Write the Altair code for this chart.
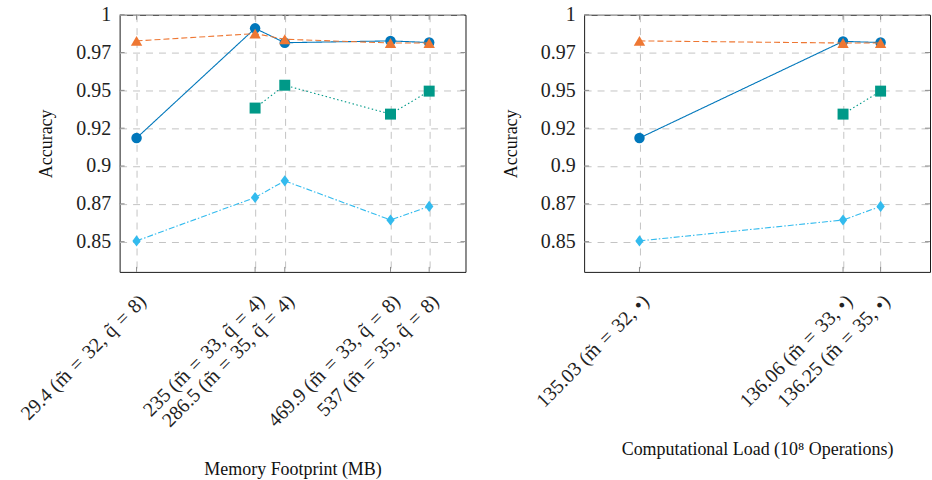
import altair as alt
import pandas as pd

# ---------------- data ----------------
series_names = ["Series 1", "Series 2", "Series 3", "Series 4"]
series_colors = ["#0077BB", "#EE7733", "#009988", "#33BBEE"]

S = "\u2004"  # math-like spacing around relations
mem_x = [29.4, 235, 286.5, 469.9, 537]
mem_labels = [
    f"29.4 (m\u0303{S}={S}32, q\u0303{S}={S}8)",
    f"235 (m\u0303{S}={S}33, q\u0303{S}={S}4)",
    f"286.5 (m\u0303{S}={S}35, q\u0303{S}={S}4)",
    f"469.9 (m\u0303{S}={S}33, q\u0303{S}={S}8)",
    f"537 (m\u0303{S}={S}35, q\u0303{S}={S}8)",
]
mem_s1 = [0.9185, 0.9910, 0.9815, 0.9827, 0.9816]
mem_s2 = [0.9827, 0.9875, 0.9838, 0.9813, 0.9813]
mem_s3 = [None, 0.9383, 0.9534, 0.9343, 0.9495]
mem_s4 = [0.8505, 0.8792, 0.8902, 0.8643, 0.8733]

ops_x = [135.03, 136.06, 136.25]
ops_labels = [
    f"135.03 (m\u0303{S}={S}32, \u2022)",
    f"136.06 (m\u0303{S}={S}33, \u2022)",
    f"136.25 (m\u0303{S}={S}35, \u2022)",
]
ops_s1 = [0.9185, 0.9824, 0.9816]
ops_s2 = [0.9827, 0.9813, 0.9813]
ops_s3 = [None, 0.9343, 0.9495]
ops_s4 = [0.8505, 0.8643, 0.8733]

y_ticks = [0.85, 0.875, 0.9, 0.925, 0.95, 0.975, 1.0]
y_tick_labels = ["0.85", "0.87", "0.9", "0.92", "0.95", "0.97", "1"]

# ---------------- styling ----------------
W, H = 347, 258
TICK_FONT = "Liberation Serif"
TICK_SIZE = 20
TITLE_FONT = "Liberation Serif"
TITLE_SIZE = 18
GRID_COLOR = "#c4c4c4"
TICK_COLOR = "#8c8c8c"

dashes = [[1, 0], [6, 3], [1.5, 2.5], [6, 2, 1.5, 2]]
shapes = ["circle", "triangle-up", "square", "M0,-1L0.75,0L0,1L-0.75,0Z"]
sizes = [110, 130, 121, 125]


def label_expr(vals, labels):
    expr = "''"
    for v, l in reversed(list(zip(vals, labels))):
        expr = f"abs(datum.value - {v}) < 1e-6 ? '{l}' : ({expr})"
    return expr


def panel(xs, labels, domain, title, values):
    rows = []
    for name, ys in zip(series_names, values):
        for xv, yv in zip(xs, ys):
            if yv is not None:
                rows.append({"x": xv, "y": yv, "series": name})
    df = pd.DataFrame(rows)

    X = alt.X(
        "x:Q",
        scale=alt.Scale(domain=domain, nice=False, zero=False),
        axis=alt.Axis(
            values=xs,
            labelExpr=label_expr(xs, labels),
            labelAngle=-45,
            labelAlign="right",
            labelBaseline="middle",
            labelPadding=26,
            labelOffset=6,
            labelOverlap=False,
            labelFlush=False,
            labelBound=False,
            ticks=False,
            domain=False,
            grid=True,
            gridDash=[7, 6],
            gridColor=GRID_COLOR,
            gridWidth=1,
            title=title,
            titlePadding=30,
        ),
    )
    Y = alt.Y(
        "y:Q",
        scale=alt.Scale(domain=[0.83, 1.0], nice=False, zero=False),
        axis=alt.Axis(
            values=y_ticks,
            labelExpr=label_expr(y_ticks, y_tick_labels),
            labelPadding=9,
            labelOverlap=False,
            labelFlush=False,
            ticks=False,
            domain=False,
            grid=True,
            gridDash=[7, 6],
            gridColor=GRID_COLOR,
            gridWidth=1,
            title="Accuracy",
            titlePadding=20,
        ),
    )

    ydf = pd.DataFrame({"y": y_ticks})
    xdf = pd.DataFrame({"x": xs})
    tick_layers = [
        alt.Chart(ydf).mark_rule(color=TICK_COLOR, strokeWidth=1).encode(
            y=Y, x=alt.value(0), x2=alt.value(5)),
        alt.Chart(ydf).mark_rule(color=TICK_COLOR, strokeWidth=1).encode(
            y=Y, x=alt.value(W - 5), x2=alt.value(W)),
        alt.Chart(xdf).mark_rule(color=TICK_COLOR, strokeWidth=1).encode(
            x=X, y=alt.value(H - 5), y2=alt.value(H)),
        alt.Chart(xdf).mark_rule(color=TICK_COLOR, strokeWidth=1).encode(
            x=X, y=alt.value(0), y2=alt.value(5)),
    ]

    base = alt.Chart(df).encode(x=X, y=Y)
    series_layers = []
    for name, c, d, s, sz in zip(series_names, series_colors, dashes, shapes, sizes):
        sub = base.transform_filter(alt.datum.series == name)
        series_layers.append(
            sub.mark_line(color=c, strokeDash=d, strokeWidth=1.1)
        )
        series_layers.append(
            sub.mark_point(shape=s, size=sz, filled=True, color=c, opacity=1)
        )

    return alt.layer(*tick_layers, *series_layers).properties(width=W, height=H)


left = panel(mem_x, mem_labels, [0, 600], "Memory Footprint (MB)",
             [mem_s1, mem_s2, mem_s3, mem_s4])
right = panel(ops_x, ops_labels, [134.75, 136.5],
              "Computational Load (10\u2078 Operations)",
              [ops_s1, ops_s2, ops_s3, ops_s4])

chart = (
    alt.hconcat(left, right, spacing=35)
    .properties(padding={"left": 16, "top": 3, "right": 1, "bottom": 2},
                background="white")
    .configure_view(stroke="#1a1a1a", strokeWidth=1)
    .configure_axis(
        labelFont=TICK_FONT,
        labelFontSize=TICK_SIZE,
        labelColor="#222222",
        titleFont=TITLE_FONT,
        titleFontSize=TITLE_SIZE,
        titleFontWeight="normal",
        titleColor="#111111",
    )
)

chart.save("out.html", embed_options={"renderer": "svg", "actions": False})
